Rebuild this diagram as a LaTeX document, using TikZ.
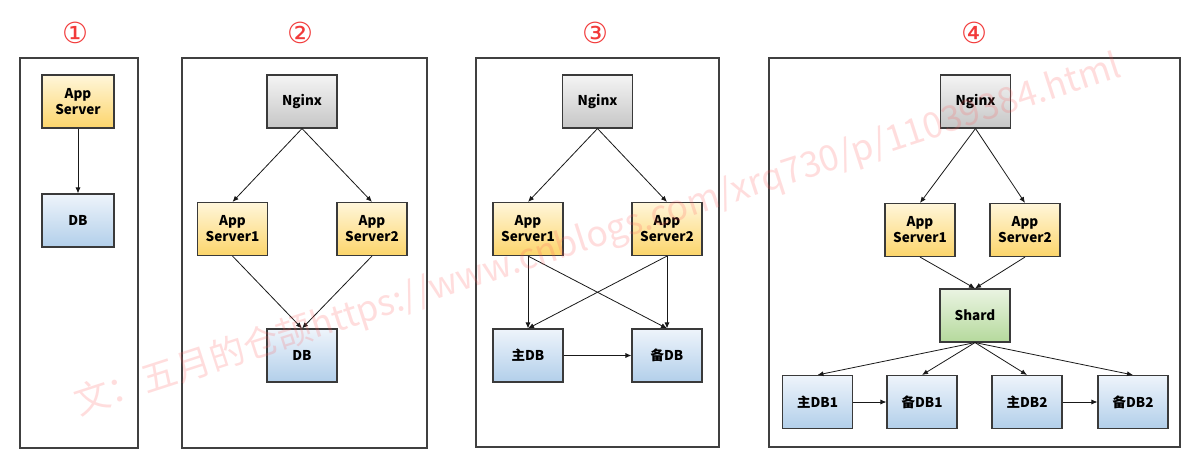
\documentclass[tikz,border=0pt]{standalone}
\usepackage{fontspec}
\setmainfont{Noto Sans CJK SC}
\newfontfamily\numfont{DejaVu Sans}
\usetikzlibrary{arrows.meta,shadings}
\definecolor{framec}{HTML}{404040}
\definecolor{boxline}{HTML}{3A3A3A}
\definecolor{ytop}{HTML}{FFF6DA}
\definecolor{ybot}{HTML}{FCD56B}
\definecolor{btop}{HTML}{EEF4FB}
\definecolor{bbot}{HTML}{B2CFEA}
\definecolor{gtop}{HTML}{F4F4F4}
\definecolor{gbot}{HTML}{C6C6C6}
\definecolor{ntop}{HTML}{EAF4E2}
\definecolor{nbot}{HTML}{B5D99C}
\definecolor{numred}{HTML}{F23A3A}
\tikzset{
  x=1pt, y=-1pt,
  panel/.style={draw=framec, line width=1.3pt},
  box/.style={draw=boxline, line width=1.1pt, minimum width=70pt, minimum height=53pt,
    inner sep=0pt, align=center, font=\bfseries\fontsize{13.5}{16}\selectfont},
  appbox/.style={box, top color=ytop, bottom color=ybot},
  dbbox/.style={box, top color=btop, bottom color=bbot},
  gwbox/.style={box, top color=gtop, bottom color=gbot},
  shbox/.style={box, top color=ntop, bottom color=nbot},
  conn/.style={draw=black!90, line width=0.8pt, -{Latex[length=6pt,width=5pt]}},
  num/.style={text=numred, font=\numfont\fontsize{29}{29}\selectfont, inner sep=0pt},
}
\begin{document}
\begin{tikzpicture}
\useasboundingbox (0,0) rectangle (1188,468);
\fill[white] (0,0) rectangle (1188,468);
% panel frames
\draw[panel] (20,58) rectangle (138,448);
\draw[panel] (182,58) rectangle (427,448);
\draw[panel] (476,58) rectangle (719,447);
\draw[panel] (769,58) rectangle (1180,447);
% numbers
\node[num] (n1) at (75,33) {①};
\node[num] (n2) at (300,33) {②};
\node[num] (n3) at (595,33) {③};
\node[num] (n4) at (974,33) {④};
% panel 1
\node[appbox, minimum width=72pt] (a1) at (78,101.5) {App\\Server};
\node[dbbox, minimum width=72pt] (d1) at (78,220.5) {DB};
\draw[conn] (a1.south) -- (d1.north);
% panel 2
\node[gwbox] (g2) at (302,101.5) {Nginx};
\node[appbox] (a21) at (232.5,229) {App\\Server1};
\node[appbox] (a22) at (372,229) {App\\Server2};
\node[dbbox] (d2) at (302,355.5) {DB};
\draw[conn] (g2.south) -- (a21.north);
\draw[conn] (g2.south) -- (a22.north);
\draw[conn] (a21.south) -- (d2.north);
\draw[conn] (a22.south) -- (d2.north);
% panel 3
\node[gwbox] (g3) at (597.5,101.5) {Nginx};
\node[appbox] (a31) at (528,229) {App\\Server1};
\node[appbox] (a32) at (667,229) {App\\Server2};
\node[dbbox] (m3) at (528,355.5) {主DB};
\node[dbbox] (s3) at (667,355.5) {备DB};
\draw[conn] (g3.south) -- (a31.north);
\draw[conn] (g3.south) -- (a32.north);
\draw[conn] (a31.south) -- (m3.north);
\draw[conn] (a31.south) -- (s3.north);
\draw[conn] (a32.south) -- (m3.north);
\draw[conn] (a32.south) -- (s3.north);
\draw[conn] (m3.east) -- (s3.west);
% panel 4
\node[gwbox] (g4) at (975.5,101.5) {Nginx};
\node[appbox] (a41) at (920,230) {App\\Server1};
\node[appbox] (a42) at (1025,230) {App\\Server2};
\node[shbox] (sh) at (975,315.5) {Shard};
\node[dbbox] (m41) at (817.5,402) {主DB1};
\node[dbbox] (s41) at (922,402) {备DB1};
\node[dbbox] (m42) at (1027,402) {主DB2};
\node[dbbox] (s42) at (1133,402) {备DB2};
\draw[conn] (g4.south) -- (a41.north);
\draw[conn] (g4.south) -- (a42.north);
\draw[conn] (a41.south) -- (sh.north);
\draw[conn] (a42.south) -- (sh.north);
\draw[conn] (sh.south) -- (m41.north);
\draw[conn] (sh.south) -- (s41.north);
\draw[conn] (sh.south) -- (m42.north);
\draw[conn] (sh.south) -- (s42.north);
\draw[conn] (m41.east) -- (s41.west);
\draw[conn] (m42.east) -- (s42.west);
% watermark
\node[text=red!65, opacity=0.2, rotate=18, font=\fontsize{35.5}{35.5}\selectfont, inner sep=0pt] (wm) at (598,236)
  {文：五月的仓颉https://www.cnblogs.com/xrq730/p/11039384.html};
\end{tikzpicture}
\end{document}
